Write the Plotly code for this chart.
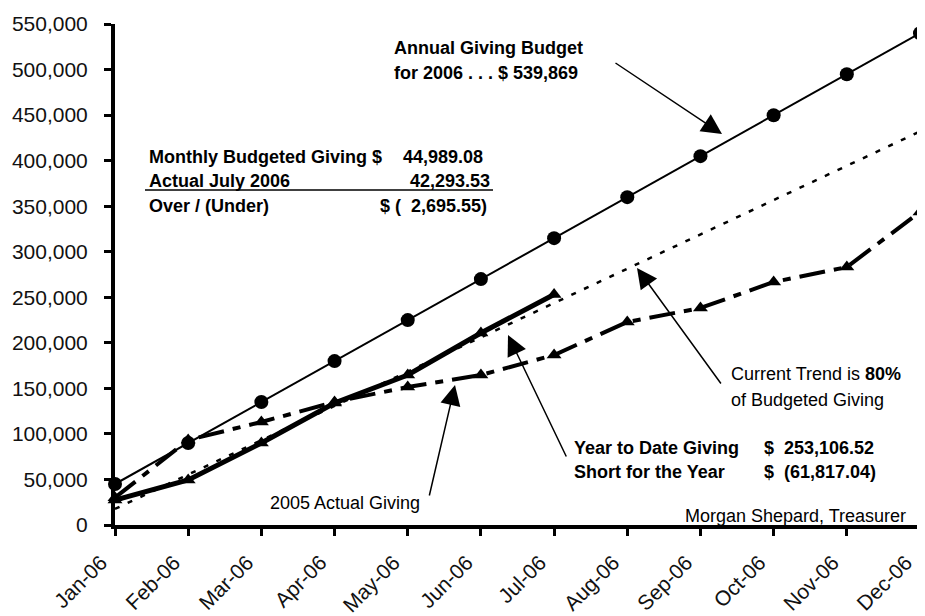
import plotly.graph_objects as go

# ---- data ----
months = ["Jan-06", "Feb-06", "Mar-06", "Apr-06", "May-06", "Jun-06",
          "Jul-06", "Aug-06", "Sep-06", "Oct-06", "Nov-06", "Dec-06"]

budget_2006 = [44989, 89978, 134967, 179956, 224945, 269934,
               314924, 359913, 404902, 449891, 494880, 539869]

trend_line = [17700, 55400, 93000, 130700, 168400, 206000,
              243700, 281300, 319000, 356700, 394300, 432000]

ytd_2006_months = months[:7]
ytd_2006 = [27400, 49400, 90000, 134000, 164700, 210813, 253107]

actual_2005 = [30000, 93300, 113100, 135000, 151500, 164700,
               186600, 222900, 238200, 266800, 283200, 343600]

y_ticks = list(range(0, 550001, 50000))

FONT = "Liberation Sans, Arial, sans-serif"

# pixel -> data helpers (layout positions for annotations only)
X0, DX = 115.0, 805.0 / 11.0
Y0, DY = 525.0, 550000 / 501.0


def xd(px):
    return (px - X0) / DX


def yd(py):
    return (Y0 - py) * DY


fig = go.Figure()

fig.add_trace(go.Scatter(
    x=months, y=trend_line, mode="lines",
    line=dict(color="black", width=2.5, dash="5px,9px"),
    cliponaxis=False, hoverinfo="skip"))

fig.add_trace(go.Scatter(
    x=months, y=actual_2005, mode="lines+markers",
    line=dict(color="black", width=4, dash="26px,9px,8px,9px"),
    marker=dict(symbol="triangle-up", size=13, color="black"),
    cliponaxis=False))

fig.add_trace(go.Scatter(
    x=months, y=budget_2006, mode="lines+markers",
    line=dict(color="black", width=2),
    marker=dict(symbol="circle", size=14, color="black"),
    cliponaxis=False))

fig.add_trace(go.Scatter(
    x=ytd_2006_months, y=ytd_2006, mode="lines+markers",
    line=dict(color="black", width=5),
    marker=dict(symbol="triangle-up", size=13, color="black"),
    cliponaxis=False))

annos = []


def txt(text, px, py, anchor="left", size=18, bold=False):
    annos.append(dict(
        text=("<b>%s</b>" % text) if bold else text,
        x=xd(px), y=yd(py), xref="x", yref="y",
        xanchor=anchor, yanchor="middle", showarrow=False,
        font=dict(family=FONT, size=size, color="black")))


def arrow(tx, ty, fx, fy):
    annos.append(dict(
        text="", x=xd(tx), y=yd(ty), ax=xd(fx), ay=yd(fy),
        xref="x", yref="y", axref="x", ayref="y",
        showarrow=True, arrowhead=2, arrowsize=2.7, arrowwidth=1.5,
        arrowcolor="black", standoff=0, startstandoff=0))


NB = "\u00a0"
txt("Annual Giving Budget", 392, 48, bold=True)
txt("for 2006 . . . $ 539,869", 392, 73, bold=True)

txt("Monthly Budgeted Giving $", 147, 157, bold=True)
txt("44,989.08", 485, 157, anchor="right", bold=True)
txt("Actual July 2006", 147, 181, bold=True)
txt("42,293.53", 492, 181, anchor="right", bold=True)
txt("Over / (Under)", 147, 206, bold=True)
txt("$ (" + NB * 2 + "2,695.55)", 489, 206, anchor="right", bold=True)

txt("Current Trend is <b>80%</b>", 729, 374)
txt("of Budgeted Giving", 729, 400)

txt("Year to Date Giving", 572, 448, bold=True)
txt("$" + NB * 2 + "253,106.52", 762, 448, bold=True)
txt("Short for the Year", 572, 472, bold=True)
txt("$" + NB * 2 + "(61,817.04)", 762, 472, bold=True)

txt("2005 Actual Giving", 268, 503)
txt("Morgan Shepard, Treasurer", 908, 516, anchor="right")

arrow(722, 134, 614, 62)
arrow(637, 268, 722, 385)
arrow(508, 335, 567, 458)
arrow(455, 385, 429, 497)

# the page body has an 8px margin, so the figure is drawn 8px in from the
# window's corner: size and margins are chosen to compensate for that
fig.update_layout(
    width=917, height=608,
    margin=dict(l=107, r=5, t=16, b=91, autoexpand=False),
    paper_bgcolor="white", plot_bgcolor="white",
    showlegend=False,
    font=dict(family=FONT, color="black"),
    annotations=annos,
    shapes=[dict(type="line", xref="x", yref="y",
                 x0=xd(145), x1=xd(493), y0=yd(190), y1=yd(190),
                 line=dict(color="black", width=1.5))],
)

fig.update_xaxes(
    type="category", range=[0, 11], automargin=False,
    showgrid=False, zeroline=False,
    showline=True, linecolor="black", linewidth=4,
    ticks="outside", ticklen=7, tickwidth=3, tickcolor="black",
    tickangle=-45, ticklabelstandoff=6, ticklabelshift=-14,
    tickfont=dict(family=FONT, size=21, color="#111"),
)
fig.update_yaxes(
    range=[0, 550000], tickvals=y_ticks, tickformat=",d", automargin=False,
    showgrid=False, zeroline=False,
    showline=True, linecolor="black", linewidth=4,
    ticks="outside", ticklen=7, tickwidth=3, tickcolor="black",
    ticklabelstandoff=12,
    tickfont=dict(family=FONT, size=21, color="#111"),
)

fig.write_html("out.html")
